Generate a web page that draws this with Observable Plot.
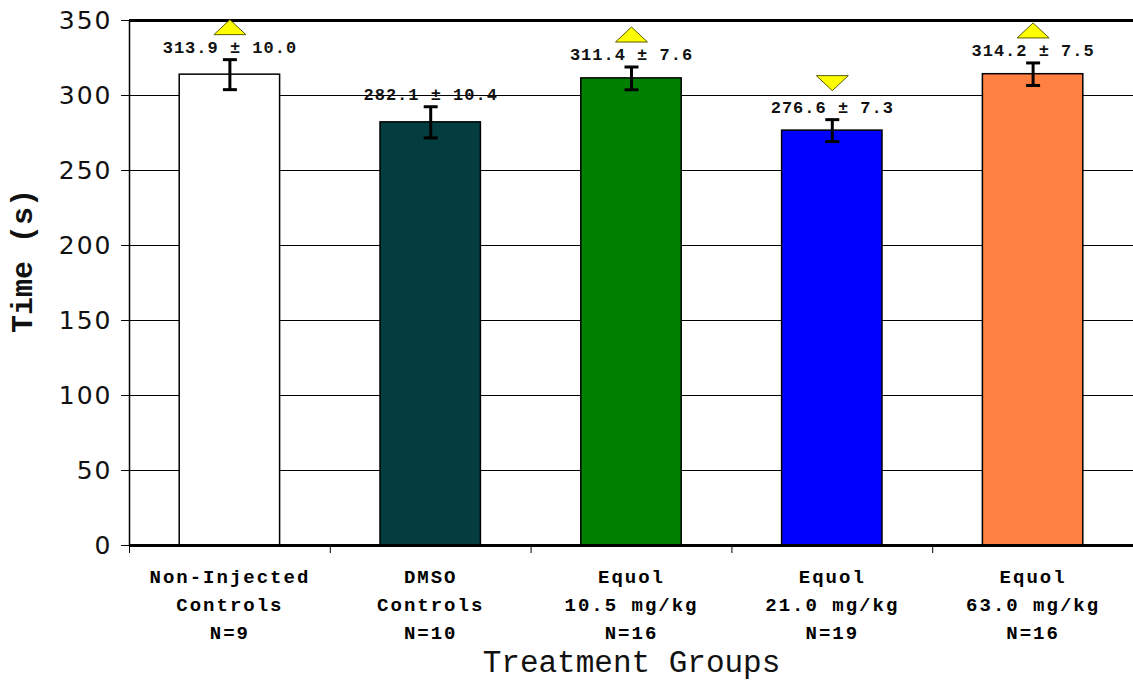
<!DOCTYPE html>
<html>
<head>
<meta charset="utf-8">
<script src="https://cdn.jsdelivr.net/npm/d3@7"></script>
<script src="https://cdn.jsdelivr.net/npm/@observablehq/plot@0.6"></script>
<style>
  html, body { margin: 0; padding: 0; background: #ffffff; }
  #chart { width: 1133px; height: 683px; }
</style>
</head>
<body>
<div id="chart"></div>
<script>
// ---- data ----
const groups = [
  "Non-Injected\nControls\nN=9",
  "DMSO\nControls\nN=10",
  "Equol\n10.5 mg/kg\nN=16",
  "Equol\n21.0 mg/kg\nN=19",
  "Equol\n63.0 mg/kg\nN=16"
];
const means = [313.9, 282.1, 311.4, 276.6, 314.2];
const sems = [10.0, 10.4, 7.6, 7.3, 7.5];
const colors = ["#ffffff", "#033d3f", "#008000", "#0000ff", "#ff8040"];
const arrows = ["up", null, "up", "down", "up"];
const yTicks = [0, 50, 100, 150, 200, 250, 300, 350];

const rows = groups.map((g, i) => ({
  i, group: g, mean: means[i], sem: sems[i], color: colors[i], arrow: arrows[i],
  label: `${means[i].toFixed(1)} ± ${sems[i].toFixed(1)}`
}));

const triUp = { draw(ctx) { ctx.moveTo(0, -8); ctx.lineTo(16, 7); ctx.lineTo(-16, 7); ctx.closePath(); } };
const triDown = { draw(ctx) { ctx.moveTo(0, 8); ctx.lineTo(16, -7); ctx.lineTo(-16, -7); ctx.closePath(); } };
const capSym = { draw(ctx) { ctx.moveTo(-7, 0); ctx.lineTo(7, 0); } };

const mono = "'Liberation Mono', 'Courier New', monospace";

const plot = Plot.plot({
  width: 1133,
  height: 683,
  marginLeft: 129,
  marginRight: 0,
  marginTop: 20,
  marginBottom: 138,
  style: { background: "#ffffff", color: "#111" },
  x: { type: "linear", domain: [0, groups.length] },
  y: { domain: [0, 350] },
  marks: [
    // gridlines
    Plot.ruleY(yTicks.filter(d => d > 0 && d < 350), { stroke: "#000", strokeWidth: 1 }),
    Plot.ruleY([350], { stroke: "#000", strokeWidth: 3 }),
    Plot.ruleX([0], { stroke: "#000", strokeWidth: 1.5 }),
    // bars
    Plot.rectY(rows, {
      x1: d => d.i + 0.25, x2: d => d.i + 0.75, y1: 0, y2: "mean",
      fill: d => d.color, stroke: "#000", strokeWidth: 1.5
    }),
    Plot.ruleY([0], { stroke: "#000", strokeWidth: 3 }),
    // error bars
    Plot.ruleX(rows, { x: d => d.i + 0.5, y1: d => d.mean - d.sem, y2: d => d.mean + d.sem, stroke: "#000", strokeWidth: 3 }),
    Plot.dot(rows, { x: d => d.i + 0.5, y: d => d.mean - d.sem, symbol: capSym, stroke: "#000", strokeWidth: 3, r: 5 }),
    Plot.dot(rows, { x: d => d.i + 0.5, y: d => d.mean + d.sem, symbol: capSym, stroke: "#000", strokeWidth: 3, r: 5 }),
    // value labels
    Plot.text(rows, {
      x: d => d.i + 0.5, y: d => d.mean + d.sem, text: "label", dy: -12,
      fontFamily: mono, fontWeight: "bold", fontSize: 17, fill: "#111",
      className: "vlabel"
    }),
    // significance triangles
    Plot.dot(rows.filter(d => d.arrow === "up"), {
      x: d => d.i + 0.5, y: d => d.mean + d.sem, dy: -32, symbol: triUp, r: 5,
      fill: "#ffff00", stroke: "#5a5a00", strokeWidth: 1
    }),
    Plot.dot(rows.filter(d => d.arrow === "down"), {
      x: d => d.i + 0.5, y: d => d.mean + d.sem, dy: -37, symbol: triDown, r: 5,
      fill: "#ffff00", stroke: "#5a5a00", strokeWidth: 1
    }),
    // axes
    Plot.axisY({
      ticks: yTicks, tickSize: 8, tickPadding: 9, label: null,
      fontSize: 25, fontFamily: "'DejaVu Sans', Verdana, sans-serif", stroke: "#000",
      className: "ylab"
    }),
    Plot.axisX({
      ticks: d3.range(groups.length + 1), tickSize: 8, tickFormat: () => "", label: null, stroke: "#000"
    }),
    Plot.axisX({
      ticks: groups.map((g, i) => i + 0.5), tickSize: 0, tickPadding: 18,
      tickFormat: v => groups[Math.floor(v)], label: null,
      fontSize: 19, fontFamily: mono, fontWeight: "bold", lineHeight: 1.47, fill: "#000",
      className: "xlab"
    }),
    // axis titles
    Plot.text(["Treatment Groups"], {
      frameAnchor: "bottom", lineAnchor: "middle", textAnchor: "middle", dy: 117,
      fontSize: 31, fontFamily: mono, fill: "#111"
    }),
    Plot.text(["Time (s)"], {
      frameAnchor: "left", textAnchor: "middle", lineAnchor: "middle", dx: -107, dy: -22, rotate: -90,
      fontSize: 30, fontFamily: mono, fontWeight: "bold", fill: "#111"
    })
  ]
});
document.getElementById("chart").append(plot);
d3.select(plot).selectAll(".xlab text").style("letter-spacing", "2px");
d3.select(plot).selectAll(".vlabel text").style("letter-spacing", "1px");
d3.select(plot).selectAll(".ylab text").style("letter-spacing", "2px");
</script>
</body>
</html>
